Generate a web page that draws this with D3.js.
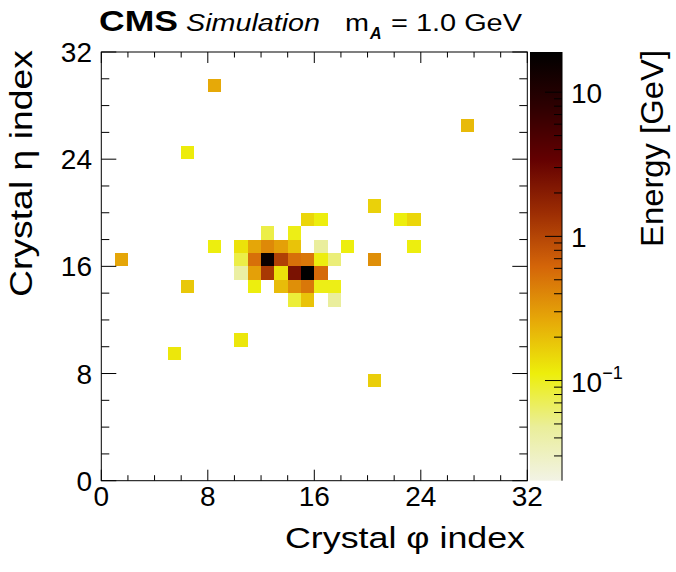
<!DOCTYPE html>
<html><head><meta charset="utf-8">
<script src="https://cdn.jsdelivr.net/npm/d3@7"></script>
<style>
body{margin:0;background:#fff}
svg{display:block}
text{font-family:"Liberation Sans",Arial,Helvetica,sans-serif;fill:#000}
</style>
</head><body>
<svg id="c" width="676" height="572"></svg>
<script>
// ---- data ----
const cellPhi    = [8, 27, 6, 20, 15, 16, 22, 23, 12, 14, 8, 10, 11, 12, 13, 14, 16, 18, 23, 1, 10, 11, 12, 13, 14, 15, 16, 17, 20, 10, 11, 12, 13, 14, 15, 16, 6, 11, 13, 14, 15, 16, 17, 14, 15, 17, 10, 5, 20];
const cellEta    = [29, 26, 24, 20, 19, 19, 19, 19, 18, 18, 17, 17, 17, 17, 17, 17, 17, 17, 17, 16, 16, 16, 16, 16, 16, 16, 16, 16, 16, 15, 15, 15, 15, 15, 15, 15, 14, 14, 14, 14, 14, 14, 14, 13, 13, 13, 10, 9, 7];
const cellEnergy = [0.26, 0.21, 0.115, 0.16, 0.15, 0.11, 0.11, 0.15, 0.078, 0.105, 0.11, 0.13, 0.27, 0.39, 0.29, 0.19, 0.046, 0.11, 0.11, 0.27, 0.078, 0.54, 15.7, 1.07, 0.54, 0.49, 0.11, 0.058, 0.36, 0.043, 0.29, 1.22, 0.13, 2.44, 19.0, 0.58, 0.178, 0.11, 0.206, 0.36, 0.49, 0.105, 0.105, 0.085, 0.19, 0.046, 0.122, 0.122, 0.165];
const axisTicks   = [0, 8, 16, 24, 32];
const energyTicks = [0.1, 1, 10];
const energyLabels = [["10","\u22121"], ["1",""], ["10",""]];
const energyRange = [0.0202, 19.0];
const gridSize = 32;

// inverted ROOT dark-body palette (low -> high)
const paletteStops  = [0, 0.125, 0.25, 0.375, 0.5, 0.625, 0.75, 0.875, 1];
const paletteColors = ["rgb(242,243,229)","rgb(234,238,154)","rgb(237,238,11)","rgb(230,168,8)","rgb(212,101,9)","rgb(156,45,3)","rgb(99,0,1)","rgb(45,0,1)","rgb(0,0,0)"];

// ---- layout ----
const L = 101.3, R = 527.3, T = 52, B = 480.7;
const CB0 = 530, CB1 = 562;

const svg = d3.select("#c");
const x = d3.scaleLinear().domain([0, gridSize]).range([L, R]);
const y = d3.scaleLinear().domain([0, gridSize]).range([B, T]);
const zPos = d3.scaleLog().domain(energyRange).range([0, 1]).clamp(true);
const pal = d3.scaleLinear().domain(paletteStops).range(paletteColors).interpolate(d3.interpolateRgb);
const color = v => pal(zPos(v));
const zY = d3.scaleLog().domain(energyRange).range([B, T]);

// cells
const cells = cellPhi.map((p, i) => ({p, e: cellEta[i], v: cellEnergy[i]}));
svg.append("g").selectAll("rect").data(cells).join("rect")
  .attr("x", d => x(d.p)).attr("y", d => y(d.e + 1))
  .attr("width", d => x(d.p + 1) - x(d.p)).attr("height", d => y(d.e) - y(d.e + 1))
  .attr("fill", d => color(d.v)).attr("shape-rendering", "crispEdges");

// frame
svg.append("rect").attr("x", L).attr("y", T).attr("width", R - L).attr("height", B - T)
  .attr("fill", "none").attr("stroke", "#000").attr("stroke-width", 1);

// ticks
const tg = svg.append("g").attr("stroke", "#000").attr("stroke-width", 1);
const minor = d3.range(0, gridSize + 1, 2);
minor.forEach(t => {
  const maj = t % 8 === 0;
  const lx = maj ? 11 : 5.5, ly = maj ? 15 : 8;
  tg.append("line").attr("x1", x(t)).attr("x2", x(t)).attr("y1", B).attr("y2", B - lx);
  tg.append("line").attr("x1", x(t)).attr("x2", x(t)).attr("y1", T).attr("y2", T + lx);
  tg.append("line").attr("y1", y(t)).attr("y2", y(t)).attr("x1", L).attr("x2", L + ly);
  tg.append("line").attr("y1", y(t)).attr("y2", y(t)).attr("x1", R).attr("x2", R - ly);
});

// tick labels
svg.append("g").selectAll("text").data(axisTicks).join("text")
  .attr("x", d => x(d)).attr("y", 506).attr("text-anchor", "middle")
  .attr("font-size", 28).text(d => d);
svg.append("g").selectAll("text").data(axisTicks).join("text")
  .attr("x", 92).attr("y", d => y(d) + 10).attr("text-anchor", "end")
  .attr("font-size", 28).text(d => d);

// axis titles
const xt = svg.append("text").attr("x", 525).attr("y", 548).attr("text-anchor", "end")
  .attr("font-size", 29).attr("textLength", 240).attr("lengthAdjust", "spacingAndGlyphs");
xt.append("tspan").text("Crystal ");
xt.append("tspan").text("\u03C6");
xt.append("tspan").text(" index");

const yt = svg.append("text").attr("transform", "translate(32,50) rotate(-90)").attr("text-anchor", "end")
  .attr("font-size", 31).attr("textLength", 247).attr("lengthAdjust", "spacingAndGlyphs");
yt.append("tspan").text("Crystal ");
yt.append("tspan").text("\u03B7");
yt.append("tspan").text(" index");

// colour bar
const grad = svg.append("defs").append("linearGradient").attr("id", "gz")
  .attr("x1", 0).attr("y1", 1).attr("x2", 0).attr("y2", 0);
paletteStops.forEach((s, i) => grad.append("stop").attr("offset", s).attr("stop-color", paletteColors[i]));
svg.append("rect").attr("x", CB0).attr("y", T).attr("width", CB1 - CB0).attr("height", B - T).attr("fill", "url(#gz)");
svg.append("line").attr("x1", CB1).attr("x2", CB1).attr("y1", T).attr("y2", B).attr("stroke", "#000");

const zt = svg.append("g").attr("stroke", "#000");
[-2, -1, 0, 1].forEach(dec => {
  d3.range(1, 10).forEach(k => {
    const v = k * Math.pow(10, dec);
    if (v < energyRange[0] * 0.999 || v > energyRange[1]) return;
    const len = k === 1 ? 17 : 8;
    zt.append("line").attr("x1", CB1).attr("x2", CB1 - len).attr("y1", zY(v)).attr("y2", zY(v));
  });
});
energyTicks.forEach((v, i) => {
  const t = svg.append("text").attr("x", 571).attr("y", zY(v) + 11).attr("font-size", 28);
  t.append("tspan").text(energyLabels[i][0]);
  if (energyLabels[i][1]) t.append("tspan").attr("font-size", 18).attr("dy", -13).text(energyLabels[i][1]);
});
svg.append("text").attr("transform", "translate(663,50) rotate(-90)").attr("text-anchor", "end")
  .attr("font-size", 31).attr("textLength", 197).attr("lengthAdjust", "spacingAndGlyphs").text("Energy [GeV]");

// header
svg.append("text").attr("x", 99).attr("y", 31).attr("font-size", 30).attr("font-weight", "bold")
  .attr("textLength", 79).attr("lengthAdjust", "spacingAndGlyphs").text("CMS");
svg.append("text").attr("x", 186).attr("y", 31).attr("font-size", 23).attr("font-style", "italic")
  .attr("textLength", 134).attr("lengthAdjust", "spacingAndGlyphs").text("Simulation");
svg.append("text").attr("x", 345).attr("y", 31).attr("font-size", 23)
  .attr("textLength", 24).attr("lengthAdjust", "spacingAndGlyphs").text("m");
svg.append("text").attr("x", 370).attr("y", 39).attr("font-size", 16).attr("font-weight", "bold").attr("font-style", "italic").text("A");
svg.append("text").attr("x", 391).attr("y", 31).attr("font-size", 23)
  .attr("textLength", 131).attr("lengthAdjust", "spacingAndGlyphs").text("= 1.0 GeV");
</script>
</body></html>
